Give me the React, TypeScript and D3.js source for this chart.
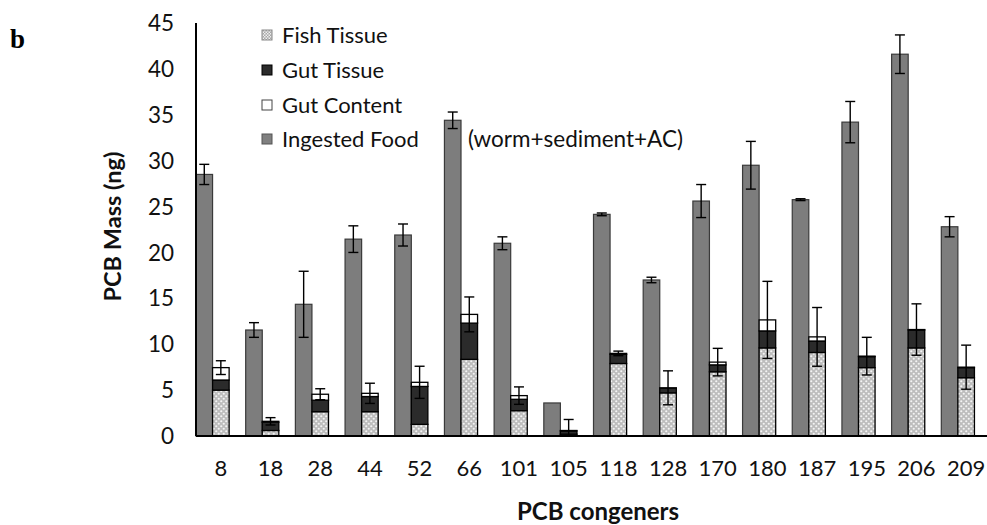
import React from 'react';
import * as d3 from 'd3';

const congeners = ['8', '18', '28', '44', '52', '66', '101', '105', '118', '128', '170', '180', '187', '195', '206', '209'];
const ingestedFood = [28.5, 11.55, 14.35, 21.45, 21.9, 34.4, 21.0, 3.6, 24.15, 17.0, 25.6, 29.5, 25.75, 34.2, 41.6, 22.8];
const ingestedErr = [1.1, 0.8, 3.6, 1.45, 1.2, 0.9, 0.7, 0, 0.15, 0.3, 1.8, 2.6, 0.1, 2.25, 2.1, 1.1];
const fishTissue = [5.0, 0.6, 2.65, 2.65, 1.27, 8.35, 2.76, 0.2, 7.9, 4.7, 7.0, 9.6, 9.1, 7.45, 9.6, 6.35];
const gutTissue = [1.1, 0.9, 1.25, 1.65, 4.13, 3.95, 1.24, 0.35, 1.0, 0.5, 0.75, 1.85, 1.25, 1.2, 1.95, 1.1];
const gutContent = [1.35, 0.1, 0.65, 0.35, 0.45, 0.95, 0.4, 0.05, 0.1, 0.05, 0.3, 1.2, 0.45, 0.05, 0.05, 0.05];
const stackErr = [0.75, 0.4, 0.6, 1.1, 1.75, 1.9, 0.95, 1.2, 0.25, 1.85, 1.5, 4.2, 3.2, 2.05, 2.8, 2.4];
const yTicks = [0, 5, 10, 15, 20, 25, 30, 35, 40, 45];
const legendLabels = ['Fish Tissue', 'Gut Tissue', 'Gut Content', 'Ingested Food'];

const FONT = 'Lato, "Open Sans", sans-serif';

export default function App() {
  const W = 987, H = 525;
  const x0 = 196, x1 = 991, yTop = 23, yBot = 436;
  const x = d3.scaleBand<string>().domain(congeners).range([x0, x1]).paddingInner(0).paddingOuter(0);
  const sub = d3.scaleBand<string>().domain(['ingested', 'stack', 'empty']).range([0, x.bandwidth()]).padding(0);
  const y = d3.scaleLinear().domain([0, 45]).range([yBot, yTop]);
  const bw = sub.bandwidth();
  const cap = 5;

  const stacks = congeners.map((c, i) => {
    const a = fishTissue[i];
    const b = a + gutTissue[i];
    const t = b + gutContent[i];
    return { c, segs: [[0, a], [a, b], [b, t]] as [number, number][], total: t };
  });
  const fills = ['url(#fishPat)', '#2b2b2b', '#ffffff'];

  const legendY = [35, 70, 105, 139];
  const legendSw = ['url(#fishPatSmall)', '#2b2b2b', '#ffffff', '#808080'];

  return (
    <svg width={W} height={H} style={{ position: 'absolute', left: 0, top: 0, background: '#fff' }}>
      <defs>
        <pattern id="fishPat" width="5" height="5" patternUnits="userSpaceOnUse">
          <rect width="5" height="5" fill="#bdbdbd" />
          <circle cx="1.25" cy="1.25" r="1.1" fill="#f4f4f4" />
          <circle cx="3.75" cy="3.75" r="1.1" fill="#f4f4f4" />
        </pattern>
        <pattern id="fishPatSmall" width="3" height="3" patternUnits="userSpaceOnUse">
          <rect width="3" height="3" fill="#a8a8a8" />
          <rect width="1.5" height="1.5" fill="#eeeeee" />
          <rect x="1.5" y="1.5" width="1.5" height="1.5" fill="#eeeeee" />
        </pattern>
      </defs>

      <text x={10} y={48} fontFamily='"Liberation Serif", "DejaVu Serif", serif' fontWeight="bold" fontSize={27}>b</text>

      {/* y tick labels */}
      {yTicks.map(t => (
        <text key={t} x={174} y={y(t)} dy="0.36em" textAnchor="end" fontFamily={FONT} fontSize={22.5} fill="#111">{t}</text>
      ))}

      {/* ingested bars */}
      {congeners.map((c, i) => {
        const bx = (x(c) as number) + (sub('ingested') as number);
        const cx = bx + bw / 2;
        const e = ingestedErr[i];
        return (
          <g key={'ing' + c}>
            <rect x={bx} y={y(ingestedFood[i])} width={bw} height={y(0) - y(ingestedFood[i])} fill="#7d7d7d" stroke="#3a3a3a" strokeWidth={1.2} />
            {e > 0 && (
              <g stroke="#000" strokeWidth={1.4}>
                <line x1={cx} x2={cx} y1={y(ingestedFood[i] + e)} y2={y(ingestedFood[i] - e)} />
                <line x1={cx - cap} x2={cx + cap} y1={y(ingestedFood[i] + e)} y2={y(ingestedFood[i] + e)} />
                <line x1={cx - cap} x2={cx + cap} y1={y(ingestedFood[i] - e)} y2={y(ingestedFood[i] - e)} />
              </g>
            )}
          </g>
        );
      })}

      {/* stacked bars */}
      {stacks.map((s, i) => {
        const bx = (x(s.c) as number) + (sub('stack') as number);
        const cx = bx + bw / 2;
        const e = stackErr[i];
        const lo = Math.max(0, s.total - e);
        return (
          <g key={'st' + s.c}>
            {s.segs.map(([a, b], k) => (
              <rect key={k} x={bx} y={y(b)} width={bw} height={y(a) - y(b)} fill={fills[k]} stroke="#000" strokeWidth={1.3} />
            ))}
            <g stroke="#000" strokeWidth={1.4}>
              <line x1={cx} x2={cx} y1={y(s.total + e)} y2={y(lo)} />
              <line x1={cx - cap} x2={cx + cap} y1={y(s.total + e)} y2={y(s.total + e)} />
              <line x1={cx - cap} x2={cx + cap} y1={y(lo)} y2={y(lo)} />
            </g>
          </g>
        );
      })}

      {/* axes */}
      <line x1={x0} x2={x0} y1={yTop} y2={yBot} stroke="#000" strokeWidth={2} />
      <line x1={x0} x2={x1} y1={yBot} y2={yBot} stroke="#000" strokeWidth={2} />

      {/* x tick labels */}
      {congeners.map(c => (
        <text key={'xl' + c} x={(x(c) as number) + x.bandwidth() / 2} y={468} dy="0.36em" textAnchor="middle" fontFamily={FONT} fontSize={22} fill="#111">{c}</text>
      ))}

      {/* axis titles */}
      <text transform={`translate(113,${(yTop + yBot) / 2 - 3}) rotate(-90)`} textAnchor="middle" dy="0.36em" fontFamily={FONT} fontWeight="bold" fontSize={23.5} fill="#111">PCB Mass (ng)</text>
      <text x={598} y={511} dy="0.36em" textAnchor="middle" fontFamily={FONT} fontWeight="bold" fontSize={24} fill="#111">PCB congeners</text>

      {/* legend */}
      {legendLabels.map((l, k) => (
        <g key={l}>
          <rect x={262} y={legendY[k] - 5} width={10} height={10} fill={legendSw[k]} stroke={k === 0 ? '#888' : k === 1 ? '#000' : k === 2 ? '#444' : '#555'} strokeWidth={1} />
          <text x={282} y={legendY[k]} dy="0.36em" fontFamily={FONT} fontSize={22} fill="#111">{l}</text>
        </g>
      ))}
      <text x={468} y={139} dy="0.36em" fontFamily={FONT} fontSize={22.5} fill="#111">(worm+sediment+AC)</text>
    </svg>
  );
}
